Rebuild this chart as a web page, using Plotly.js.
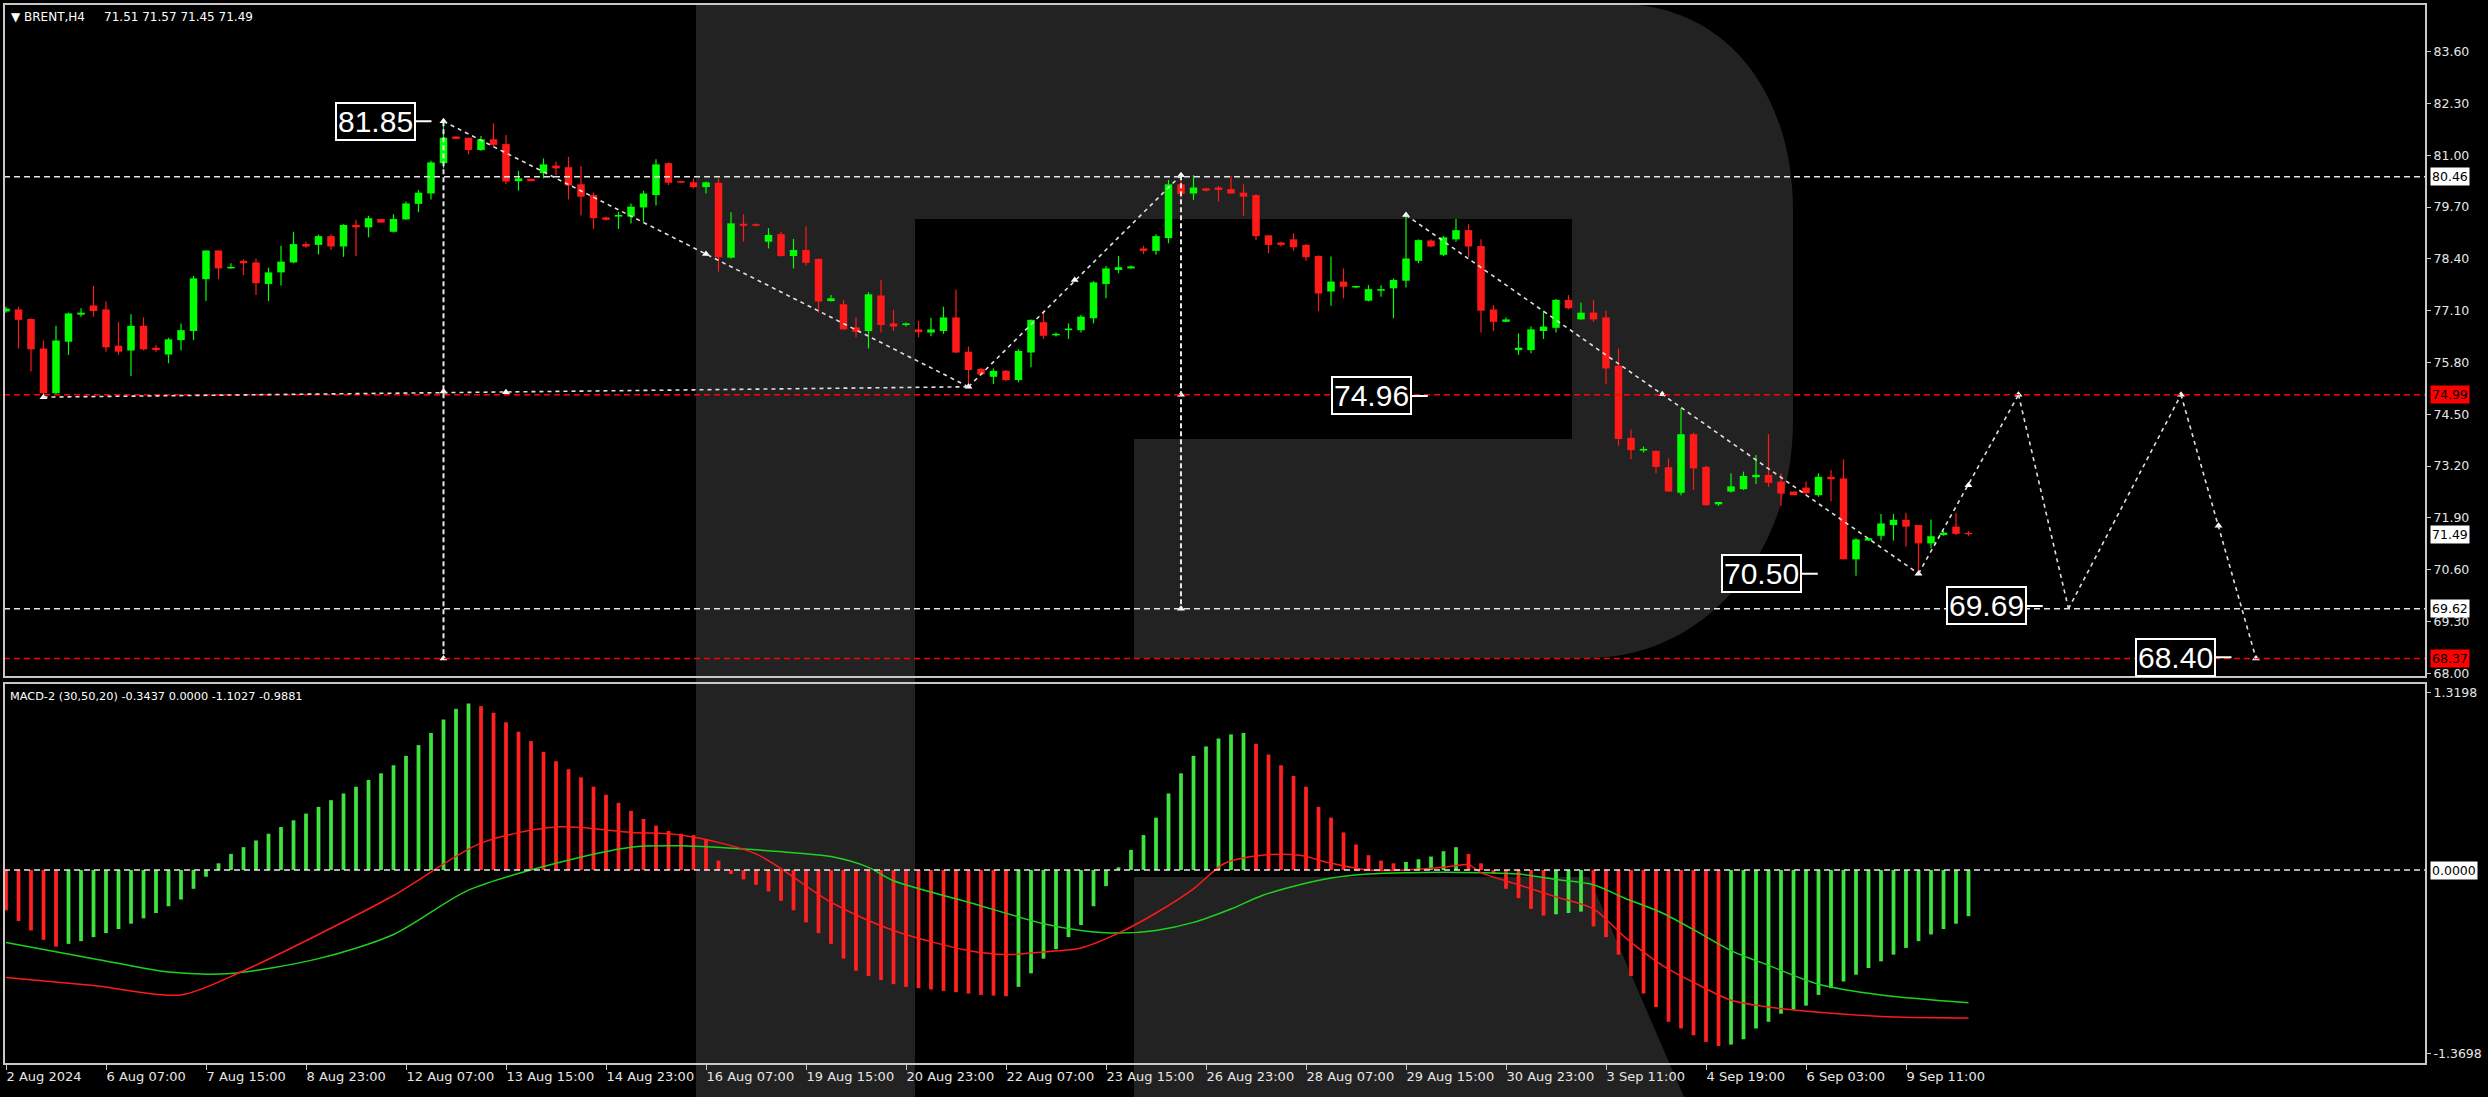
<!DOCTYPE html>
<html><head><meta charset="utf-8">
<script src="https://cdn.plot.ly/plotly-3.0.1.min.js"></script>
<style>html,body{margin:0;padding:0;background:#000;overflow:hidden}#chart{width:2488px;height:1097px}</style>
</head><body><div id="chart"></div>
<script>
// ---- price data (H4 candles, index = bar number) ----
const openP=[77.08,77.13,76.89,76.15,75.03,76.32,77.00,77.23,77.13,76.22,76.10,76.72,76.17,76.00,76.36,76.59,77.89,78.61,78.16,78.35,
78.31,77.77,78.06,78.31,78.77,78.75,78.97,78.71,79.25,79.19,79.40,79.08,79.39,79.78,80.04,80.80,81.47,81.44,81.13,81.40,
81.28,80.35,80.41,80.55,80.74,80.70,80.27,80.00,79.44,79.46,79.46,79.69,80.00,80.80,80.35,80.32,80.20,80.31,78.43,79.28,
79.27,78.83,79.02,78.47,78.62,78.40,77.34,77.26,76.68,76.59,77.48,76.78,76.74,76.63,76.55,76.59,76.93,76.07,75.64,75.44,
75.59,75.36,76.05,76.81,76.48,76.61,76.61,76.91,77.77,78.12,78.16,78.66,78.60,78.92,80.27,80.04,80.17,80.19,80.15,80.06,
80.00,78.99,78.81,78.89,78.75,78.47,77.58,77.83,77.68,77.35,77.60,77.66,77.85,78.35,78.86,78.50,78.89,79.12,78.72,77.13,
76.82,76.11,76.11,76.59,76.67,77.37,76.88,77.05,76.93,75.72,73.91,73.59,73.58,73.17,72.53,74.00,73.18,72.24,72.56,72.62,
72.92,72.98,72.81,72.56,72.66,72.47,72.93,72.89,70.86,71.33,71.45,71.72,71.85,71.72,71.26,71.47,71.68,71.51];
const highP=[77.20,77.20,76.90,76.35,76.72,77.05,77.16,77.72,77.33,76.82,77.01,76.93,76.24,76.42,76.78,77.97,78.61,78.61,78.29,78.39,
78.41,78.18,78.73,79.08,78.83,79.01,79.01,79.27,79.38,79.48,79.40,79.52,79.84,80.13,80.86,81.85,81.47,81.44,81.48,81.80,
81.51,80.61,80.41,80.92,80.84,80.96,80.73,80.06,79.46,79.58,79.79,80.11,80.90,80.82,80.36,80.42,80.34,80.42,79.57,79.52,
79.29,79.17,79.08,78.90,79.21,78.41,77.49,77.37,76.93,77.56,77.87,77.12,76.80,76.84,76.92,77.20,77.63,76.20,75.66,75.65,
75.61,76.13,76.88,77.07,76.55,76.78,76.99,77.84,78.22,78.47,78.23,78.73,79.02,80.38,80.50,80.50,80.17,80.23,80.48,80.27,
80.02,78.99,78.83,79.04,78.77,78.49,78.46,78.16,77.72,77.74,77.74,77.91,79.50,78.89,78.89,78.97,79.40,79.27,78.89,77.24,
76.93,76.53,76.70,77.10,77.39,77.49,77.30,77.37,77.10,76.15,74.12,73.69,73.60,73.39,74.65,74.04,73.21,72.30,73.02,73.06,
73.48,74.00,73.02,72.56,72.81,73.02,73.10,73.37,71.39,71.39,72.00,72.00,72.03,71.72,71.86,71.57,72.03,71.57];
const lowP=[77.05,76.15,75.57,74.90,75.00,75.99,76.95,76.95,76.07,75.99,75.46,76.10,76.07,75.78,76.10,76.36,77.34,77.89,78.15,77.99,
77.49,77.34,77.73,78.29,78.68,78.51,78.62,78.45,78.47,78.94,79.31,79.06,79.38,79.57,79.89,80.67,81.41,81.02,81.11,81.22,
80.28,80.11,80.35,80.42,80.50,79.89,79.49,79.15,79.36,79.15,79.29,79.33,79.74,80.25,80.30,80.17,80.04,78.08,78.41,78.83,
79.21,78.66,78.46,78.16,78.23,77.05,77.33,76.62,76.43,76.15,76.55,76.59,76.70,76.43,76.46,76.52,76.03,75.19,75.48,75.26,
75.33,75.30,75.68,76.39,76.45,76.39,76.55,76.78,77.41,78.04,78.15,78.52,78.50,78.79,79.92,79.88,80.09,79.84,80.04,79.48,
78.87,78.54,78.71,78.60,78.35,77.09,77.22,77.41,77.66,77.33,77.45,76.91,77.68,78.29,78.69,78.47,78.83,78.44,76.55,76.59,
76.82,75.99,76.03,76.39,76.55,77.13,76.88,76.82,75.26,73.71,73.37,73.54,73.02,72.56,72.47,72.60,72.20,72.20,72.53,72.60,
72.75,72.67,72.20,72.47,72.47,72.43,72.31,70.86,70.45,71.33,71.33,71.33,71.18,70.50,71.13,71.45,71.47,71.45];
const closeP=[77.15,76.87,76.13,75.03,76.35,77.03,77.05,77.09,76.18,76.07,76.72,76.13,76.11,76.38,76.61,77.91,78.61,78.16,78.20,78.29,
77.79,78.06,78.33,78.77,78.71,78.97,78.71,79.25,79.19,79.42,79.31,79.40,79.79,80.06,80.82,81.44,81.41,81.13,81.40,81.26,
80.34,80.42,80.35,80.77,80.67,80.24,79.96,79.42,79.38,79.50,79.71,80.04,80.77,80.31,80.31,80.20,80.32,78.44,79.29,79.23,
79.23,79.00,78.47,78.62,78.30,77.33,77.41,76.63,76.57,77.51,76.74,76.70,76.78,76.56,76.63,76.93,76.05,75.61,75.50,75.59,
75.36,76.09,76.87,76.47,76.52,76.65,76.95,77.81,78.16,78.19,78.21,78.60,78.97,80.27,80.03,80.19,80.11,80.13,80.04,79.96,
78.97,78.75,78.75,78.69,78.44,77.53,77.83,77.70,77.72,77.64,77.64,77.87,78.41,78.87,78.71,78.94,79.12,78.71,77.10,76.82,
76.88,76.17,76.63,76.70,77.37,77.16,77.05,76.88,75.65,73.88,73.60,73.63,73.18,72.56,74.00,73.14,72.22,72.30,72.69,72.95,
72.98,72.78,72.51,72.47,72.52,72.93,72.87,70.86,71.36,71.39,71.76,71.85,71.68,71.26,71.44,71.53,71.50,71.49];

// ---- axis labels ----
const xTickIdx=[0,8,16,24,32,40,48,56,64,72,80,88,96,104,112,120,128,136,144,152];
const xTickText=["2 Aug 2024","6 Aug 07:00","7 Aug 15:00","8 Aug 23:00","12 Aug 07:00","13 Aug 15:00","14 Aug 23:00","16 Aug 07:00","19 Aug 15:00","20 Aug 23:00","22 Aug 07:00","23 Aug 15:00","26 Aug 23:00","28 Aug 07:00","29 Aug 15:00","30 Aug 23:00","3 Sep 11:00","4 Sep 19:00","6 Sep 03:00","9 Sep 11:00"];
const priceTicks=[68.00,69.30,70.60,71.90,73.20,74.50,75.80,77.10,78.40,79.70,81.00,82.30,83.60];
const macdTicks=[1.3198,-1.3698];

// ---- MACD-2 (30,50,20) ----
const macdHist=[-0.30,-0.38,-0.45,-0.52,-0.57,-0.55,-0.53,-0.50,-0.47,-0.44,-0.40,-0.36,-0.32,-0.27,-0.22,-0.14,-0.05,
0.05,0.12,0.17,0.22,0.27,0.32,0.37,0.42,0.47,0.52,0.57,0.62,0.67,0.72,0.78,0.85,0.93,1.02,1.12,1.20,1.24,
1.22,1.17,1.10,1.03,0.96,0.88,0.81,0.75,0.69,0.62,0.56,0.50,0.44,0.38,0.33,0.29,
0.27,0.26,0.23,0.07,
-0.03,-0.07,-0.11,-0.16,-0.23,-0.30,-0.39,-0.47,-0.55,-0.66,-0.75,-0.79,-0.82,-0.85,-0.87,-0.88,-0.89,-0.90,-0.91,-0.92,-0.93,-0.935,-0.94,
-0.87,-0.77,-0.66,-0.59,-0.50,-0.41,-0.27,-0.12,0.02,0.15,0.26,0.39,0.57,0.72,0.85,0.92,0.98,1.01,1.02,
0.94,0.86,0.78,0.70,0.62,0.47,0.39,0.28,0.19,0.11,0.07,0.05,
0.06,0.08,0.10,0.14,0.17,
0.12,0.05,-0.03,-0.14,-0.21,-0.29,-0.34,
-0.33,-0.32,-0.31,
-0.42,-0.50,-0.63,-0.79,-0.92,-1.02,-1.13,-1.18,-1.23,-1.28,-1.31,
-1.30,-1.26,-1.18,-1.13,-1.07,-1.04,-1.01,-0.93,-0.88,-0.83,-0.78,-0.73,-0.68,-0.63,-0.58,-0.53,-0.48,-0.44,-0.40,-0.3437];
const macdRedX=[0,7,14,19,25,31,38,44,50,54,60,66,71,77,80,83,86,89,92,95,97.5,100.5,103.5,106,109,112,115,117,118,121,124,127,129.5,132.5,135.5,138,141,145,150,157];
const macdRedY=[-0.80,-0.86,-0.93,-0.75,-0.48,-0.19,0.20,0.32,0.28,0.26,0.12,-0.24,-0.45,-0.60,-0.63,-0.61,-0.58,-0.47,-0.32,-0.14,0.05,0.11,0.11,0.05,0.0,0.0,0.02,0.04,-0.02,-0.11,-0.20,-0.29,-0.50,-0.71,-0.86,-0.97,-1.02,-1.06,-1.09,-1.1027];
const macdGreenX=[0,7,13,18,25,31,37,44,50,54,60,66,69,71,77,83,86,89,92,95,98,100.5,103.5,106,109,112,118,121,124,127,129.5,132.5,135.5,138,141,145,150,157];
const macdGreenY=[-0.54,-0.66,-0.76,-0.77,-0.66,-0.48,-0.15,0.05,0.17,0.18,0.15,0.10,0.02,-0.08,-0.24,-0.40,-0.45,-0.47,-0.45,-0.39,-0.29,-0.19,-0.11,-0.06,-0.03,-0.02,-0.02,-0.03,-0.07,-0.11,-0.21,-0.32,-0.47,-0.60,-0.71,-0.85,-0.93,-0.9881];

// ---- drawn analysis objects ----
const whiteLevels=[80.46,69.62];
const redLevels=[74.99,68.37];
const zigzagSegs=[[35,81.85,77,75.19],[77,75.19,94,80.50],[3,74.93,77,75.19],[112,79.50,153,70.50],
  [153,70.50,161,74.99],[161,74.99,165,69.62],[165,69.62,174,74.99],[174,74.99,180,68.37]];
const verticalSegs=[[35,81.85,68.37],[94,80.50,69.62]];
const arrowIdx=[3,35,35,35,40,56,77,85.5,94,94,94,112,132.5,153,157,161,174,177,180];
const arrowPrice=[74.93,81.85,75.07,68.37,75.05,78.52,75.19,77.87,80.50,74.99,69.62,79.50,75.00,70.50,72.72,74.99,74.99,71.70,68.37];
const priceLabels=[["81.85",35,81.85],["74.96",114.7,74.96],["70.50",145.9,70.50],["69.69",163.9,69.69],["68.40",179,68.40]];
const axisBoxes=[["80.46",80.46,"#ffffff"],["74.99",74.99,"#ff0000"],["71.49",71.49,"#ffffff"],["69.62",69.62,"#ffffff"],["68.37",68.37,"#ff0000"]];

// ---- geometry helpers (pixel -> paper) ----
const W=2488,H=1097,L=4,R=2426,T=4,B=1064;
const px=x=>(x-L)/(R-L), py=y=>(B-y)/(B-T);
const GREEN='#00ff00', RED='#ff1a1a';

const n=openP.length, idx=[...Array(n).keys()];
const up=idx.map(i=>closeP[i]>=openP[i]);
const bodyBase=idx.map(i=>Math.min(openP[i],closeP[i]));
const bodyH=idx.map(i=>Math.max(Math.abs(closeP[i]-openP[i]),0.035));
function wicks(sel){const x=[],y=[];idx.forEach(i=>{if(up[i]===sel){x.push(i,i,null);y.push(lowP[i],highP[i],null);}});return {x,y};}
const wg=wicks(true), wr=wicks(false);

const histColor=macdHist.map((v,i)=>i===0?'#ff2020':(v>=macdHist[i-1]?'#3fe33f':'#ff2020'));

const traces=[
 {type:'scatter',mode:'lines',x:wg.x,y:wg.y,line:{color:GREEN,width:1.2},xaxis:'x',yaxis:'y',hoverinfo:'skip'},
 {type:'scatter',mode:'lines',x:wr.x,y:wr.y,line:{color:RED,width:1.2},xaxis:'x',yaxis:'y',hoverinfo:'skip'},
 {type:'bar',x:idx,y:bodyH,base:bodyBase,width:0.6,marker:{color:idx.map(i=>up[i]?GREEN:RED),line:{width:0}},xaxis:'x',yaxis:'y',hoverinfo:'skip'},
 {type:'scatter',mode:'markers',x:arrowIdx,y:arrowPrice,marker:{symbol:'triangle-up',size:7,color:'#ffffff'},xaxis:'x',yaxis:'y',hoverinfo:'skip'},
 {type:'bar',x:idx,y:macdHist,width:0.3,marker:{color:histColor,line:{width:0}},xaxis:'x',yaxis:'y2',hoverinfo:'skip'},
 {type:'scatter',mode:'lines',x:macdGreenX,y:macdGreenY,line:{color:'#1fd11f',width:1.5,shape:'spline',smoothing:0.8},xaxis:'x',yaxis:'y2',hoverinfo:'skip'},
 {type:'scatter',mode:'lines',x:macdRedX,y:macdRedY,line:{color:'#ff1a1a',width:1.5,shape:'spline',smoothing:0.8},xaxis:'x',yaxis:'y2',hoverinfo:'skip'}
];

const shapes=[];
// watermark "R"
const G='#222222';
shapes.push({type:'rect',xref:'paper',yref:'paper',x0:px(696),x1:px(915),y0:py(1097),y1:py(4),fillcolor:G,line:{width:0},layer:'below'});
const bowl=`M${px(915)},${py(4)} L${px(1618)},${py(4)} C${px(1728)},${py(4)} ${px(1793)},${py(95)} ${px(1793)},${py(210)} L${px(1793)},${py(420)} C${px(1793)},${py(560)} ${px(1700)},${py(658)} ${px(1589)},${py(658)} L${px(1134)},${py(658)} L${px(1134)},${py(439)} L${px(1572)},${py(439)} L${px(1572)},${py(219)} L${px(915)},${py(219)} Z`;
shapes.push({type:'path',xref:'paper',yref:'paper',path:bowl,fillcolor:G,line:{width:0},layer:'below'});
const leg=`M${px(1134)},${py(877)} L${px(1589)},${py(877)} L${px(1684)},${py(1097)} L${px(1134)},${py(1097)} Z`;
shapes.push({type:'path',xref:'paper',yref:'paper',path:leg,fillcolor:G,line:{width:0},layer:'below'});
// level lines
whiteLevels.forEach(v=>shapes.push({type:'line',xref:'paper',yref:'y',x0:0,x1:1,y0:v,y1:v,line:{color:'#e8e8e8',width:1.5,dash:'6px,4px'}}));
redLevels.forEach(v=>shapes.push({type:'line',xref:'paper',yref:'y',x0:0,x1:1,y0:v,y1:v,line:{color:'#ff0000',width:1.5,dash:'6px,4px'}}));
shapes.push({type:'line',xref:'paper',yref:'y2',x0:0,x1:1,y0:0,y1:0,line:{color:'#e8e8e8',width:1.5,dash:'6px,4px'}});
// zigzag
zigzagSegs.forEach(s=>shapes.push({type:'line',xref:'x',yref:'y',x0:s[0],y0:s[1],x1:s[2],y1:s[3],line:{color:'#e0e0e0',width:1.6,dash:'4px,4px'}}));
verticalSegs.forEach(s=>shapes.push({type:'line',xref:'x',yref:'y',x0:s[0],y0:s[1],x1:s[0],y1:s[2],line:{color:'#e8e8e8',width:2,dash:'5px,3px'}}));
// panel frames
shapes.push({type:'rect',xref:'paper',yref:'paper',x0:0,x1:1,y0:py(677),y1:1,line:{color:'#c8c8c8',width:2}});
shapes.push({type:'rect',xref:'paper',yref:'paper',x0:0,x1:1,y0:0,y1:py(683),line:{color:'#c8c8c8',width:2}});

const ann=[];
ann.push({xref:'paper',yref:'paper',x:px(9),y:py(17),xanchor:'left',yanchor:'middle',showarrow:false,text:'▼ BRENT,H4&nbsp;&nbsp;&nbsp;&nbsp;&nbsp;71.51 71.57 71.45 71.49',font:{family:'DejaVu Sans',size:12,color:'#ffffff'}});
ann.push({xref:'paper',yref:'paper',x:px(8),y:py(696),xanchor:'left',yanchor:'middle',showarrow:false,text:'MACD-2 (30,50,20) -0.3437 0.0000 -1.1027 -0.9881',font:{family:'DejaVu Sans',size:11.3,color:'#ffffff'}});
priceLabels.forEach(l=>ann.push({xref:'x',yref:'y',x:l[1],y:l[2],text:l[0],showarrow:true,arrowhead:0,arrowwidth:2,arrowcolor:'#ffffff',ax:-68,ay:0,standoff:12,
  font:{family:'Liberation Sans',size:30,color:'#ffffff'},bgcolor:'#000000',bordercolor:'#ffffff',borderwidth:2,borderpad:1}));
axisBoxes.forEach(b=>ann.push({xref:'paper',yref:'y',x:px(2430),y:b[1],xanchor:'left',yanchor:'middle',showarrow:false,text:b[0],
  font:{family:'DejaVu Sans',size:12.5,color:'#000000'},bgcolor:b[2],borderpad:1}));
ann.push({xref:'paper',yref:'y2',x:px(2430),y:0,xanchor:'left',yanchor:'middle',showarrow:false,text:'0.0000',
  font:{family:'DejaVu Sans',size:12.5,color:'#000000'},bgcolor:'#ffffff',borderpad:1});

const axFont={family:'DejaVu Sans',size:12.5,color:'#e6e6e6'};
const layout={
 width:W,height:H,margin:{l:L,r:W-R,t:T,b:H-B,pad:0},
 paper_bgcolor:'#000000',plot_bgcolor:'rgba(0,0,0,0)',showlegend:false,hovermode:false,barmode:'overlay',
 xaxis:{domain:[0,1],range:[-0.16,193.6],anchor:'y2',tickmode:'array',tickvals:xTickIdx,ticktext:xTickText,ticks:'outside',ticklen:5,tickcolor:'#c8c8c8',
   ticklabelposition:'outside right',tickfont:{family:'DejaVu Sans',size:13,color:'#e6e6e6'},showgrid:false,zeroline:false,showline:false,fixedrange:true},
 yaxis:{domain:[py(677),1],range:[67.907,84.795],side:'right',tickmode:'array',tickvals:priceTicks,ticktext:priceTicks.map(v=>v.toFixed(2)),
   ticks:'outside',ticklen:4,tickcolor:'#c8c8c8',tickfont:axFont,showgrid:false,zeroline:false,showline:false,fixedrange:true},
 yaxis2:{domain:[0,py(683)],range:[-1.4445,1.3924],side:'right',tickmode:'array',tickvals:macdTicks,ticktext:macdTicks.map(v=>v.toFixed(4)),
   ticks:'outside',ticklen:4,tickcolor:'#c8c8c8',tickfont:axFont,showgrid:false,zeroline:false,showline:false,fixedrange:true},
 shapes:shapes,annotations:ann
};
Plotly.newPlot('chart',traces,layout,{displayModeBar:false,staticPlot:true});
</script></body></html>
